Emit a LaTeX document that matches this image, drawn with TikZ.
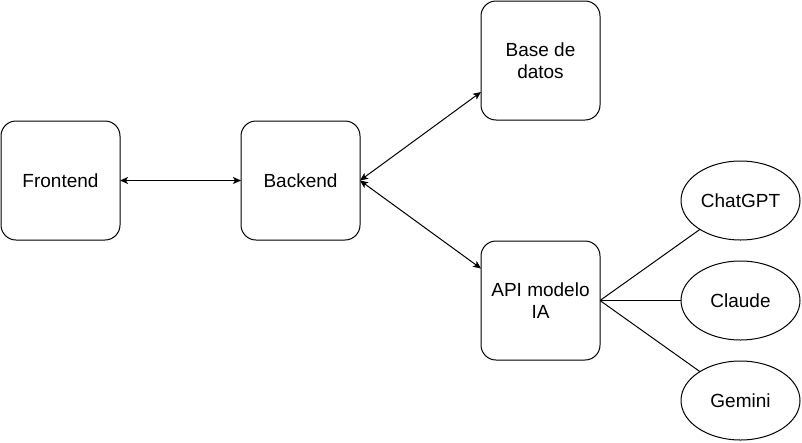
\documentclass[tikz,border=0pt]{standalone}
\usepackage{fontspec}
\setmainfont{Liberation Sans}
\usepackage{tikz}
\usetikzlibrary{positioning,shapes.geometric,arrows.meta}
\pgfdeclarelayer{nodelayer}
\pgfdeclarelayer{edgelayer}
\pgfsetlayers{main,edgelayer,nodelayer}
\tikzstyle{comp_box}=[rectangle, rounded corners=15pt, draw=black, fill=white, line width=1pt, minimum width=119pt, minimum height=119pt, align=center, outer sep=0pt, font=\fontsize{19}{22}\selectfont]
\tikzstyle{model_oval}=[ellipse, draw=black, fill=white, line width=1pt, minimum width=119pt, minimum height=79pt, inner sep=0pt, outer sep=0pt, font=\fontsize{19}{22}\selectfont]
\tikzstyle{biChan}=[{Stealth[length=8pt,width=7pt,inset=2pt]}-{Stealth[length=8pt,width=7pt,inset=2pt]}, black, line width=1pt]
\tikzstyle{plainLink}=[-, draw=black, line width=1pt]

\begin{document}
\begin{tikzpicture}[x=1pt, y=-1pt]
        \useasboundingbox (0,0) rectangle (802,442);
        \begin{pgfonlayer}{nodelayer}
            \node [style=comp_box] (Front) at (60.5, 180.5) {Frontend};
            \node [style=comp_box, right=121pt of Front] (Back) {Backend};
            \node [style=comp_box, above right=1pt and 121pt of Back] (DB) {Base de\\datos};
            \node [style=comp_box, below right=1pt and 121pt of Back] (API) {API modelo\\IA};

            %modelos
            \node [style=model_oval, right=81pt of API] (Claude) {Claude};
            \node [style=model_oval, above=21pt of Claude] (Chat) {ChatGPT};
            \node [style=model_oval, below=21pt of Claude] (Gemini) {Gemini};
        \end{pgfonlayer}
        \begin{pgfonlayer}{edgelayer}
                \draw [style={biChan}] (Front) to (Back);
                \draw [style={biChan}] (Back.east) to ([yshift=-31.5pt]DB.west);
                \draw [style={biChan}] (Back.east) to ([yshift=32pt]API.west);

                \draw [style={plainLink}] (API.east) to (Chat);
                \draw [style={plainLink}] (API.east) to (Claude);
                \draw [style={plainLink}] (API.east) to (Gemini);
        \end{pgfonlayer}
    \end{tikzpicture}
\end{document}
